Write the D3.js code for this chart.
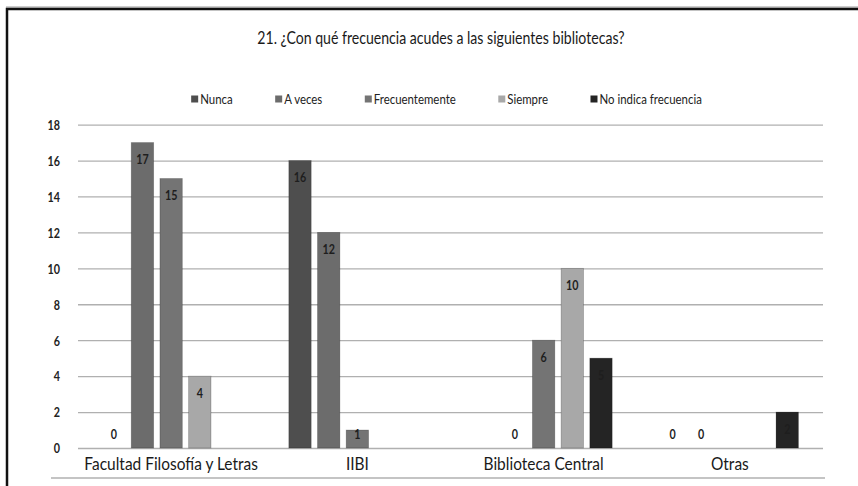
<!DOCTYPE html>
<html>
<head>
<meta charset="utf-8">
<script src="https://cdn.jsdelivr.net/npm/d3@7"></script>
<style>
  body { margin: 0; background: #fff; }
  svg { display: block; }
  text { font-family: Lato, "Open Sans", sans-serif; }
</style>
</head>
<body>
<div id="content"></div>
<script>
// chart data
const categories = ['Facultad Filosofía y Letras', 'IIBI', 'Biblioteca Central', 'Otras'];
const seriesNames = ['Nunca', 'A veces', 'Frecuentemente', 'Siempre', 'No indica frecuencia'];
const nunca = [0, 16, null, 0];
const aVeces = [17, 12, 0, 0];
const frecuentemente = [15, 1, 6, null];
const siempre = [4, null, 10, null];
const noIndica = [null, null, 5, 2];
const yTicks = [0, 2, 4, 6, 8, 10, 12, 14, 16, 18];
const titleText = '21. ¿Con qué frecuencia acudes a las siguientes bibliotecas?';

var app = {};
app.width = 858;
app.height = 486;
app.colors = ['#4e4e4e', '#6c6c6c', '#747474', '#a8a8a8', '#242424'];
app.series = [nunca, aVeces, frecuentemente, siempre, noIndica];
app.sx = 0.86; // the scanned chart is squeezed sideways

// put a text at (x,y) and squeeze it horizontally
function place(sel, x, y) {
  sel.attr('x', null).attr('y', null)
     .attr('transform', (d, i) => {
       var px = typeof x === 'function' ? x(d, i) : x;
       var py = typeof y === 'function' ? y(d, i) : y;
       return `translate(${px},${py}) scale(${app.sx},1)`;
     });
}

// flat list of bars
app.bars = [];
categories.forEach((c, i) => {
  seriesNames.forEach((s, j) => {
    app.bars.push({ cat: c, name: s, value: app.series[j][i], color: app.colors[j] });
  });
});

app.svg = d3.select('#content').append('svg')
  .attr('width', app.width)
  .attr('height', app.height);

app.svg.append('rect')
  .attr('width', app.width).attr('height', app.height)
  .attr('fill', '#fff');

// outer frame (top + left)
app.svg.append('line')
  .attr('x1', 6).attr('x2', app.width).attr('y1', 7).attr('y2', 7)
  .attr('stroke', '#9a9a9a').attr('stroke-width', 1);
app.svg.append('path')
  .attr('d', `M7,${app.height} V9 H${app.width}`)
  .attr('fill', 'none')
  .attr('stroke', '#111')
  .attr('stroke-width', 2.5);

app.x0 = d3.scaleBand()
  .domain(categories)
  .range([78, 823])
  .paddingInner(0.23)
  .paddingOuter(0.115);

app.x1 = d3.scaleBand()
  .domain(seriesNames)
  .range([0, app.x0.bandwidth()])
  .paddingInner(0.22)
  .paddingOuter(0.11);

app.y = d3.scaleLinear()
  .domain([0, 18])
  .range([448, 124.6]);

// gridlines + tick labels
app.yAxis = d3.axisLeft(app.y)
  .tickValues(yTicks)
  .tickSize(-(823 - 78))
  .tickPadding(18);

app.yGuide = app.svg.append('g')
  .attr('transform', 'translate(78,0)')
  .call(app.yAxis);
app.yGuide.select('.domain').remove();
app.yGuide.selectAll('line')
  .attr('stroke', '#b0b0b0')
  .attr('stroke-width', 1.3);
app.yGuide.selectAll('text')
  .attr('fill', '#222')
  .attr('dy', null)
  .attr('dominant-baseline', 'central')
  .style('font-size', '12.5px')
  .style('font-weight', 'bold')
  .style('font-family', 'Lato, sans-serif')
  .call(place, -18, 0);

// bottom rule under category labels
app.svg.append('line')
  .attr('x1', 51).attr('x2', 825).attr('y1', 478).attr('y2', 478)
  .attr('stroke', '#b0b0b0').attr('stroke-width', 1.3);

// bars
app.svg.append('g').selectAll('rect')
  .data(app.bars.filter(d => d.value))
  .enter().append('rect')
  .attr('x', d => app.x0(d.cat) + app.x1(d.name))
  .attr('width', app.x1.bandwidth())
  .attr('y', d => app.y(d.value))
  .attr('height', d => app.y(0) - app.y(d.value))
  .attr('fill', d => d.color)
  .attr('stroke', 'rgba(0,0,0,0.25)')
  .attr('stroke-width', 0.8);

// data labels
app.svg.append('g').selectAll('text')
  .data(app.bars.filter(d => d.value !== null))
  .enter().append('text')
  .attr('text-anchor', 'middle')
  .attr('dominant-baseline', 'central')
  .attr('fill', '#1e1e1e')
  .style('font-size', '12.5px')
  .style('font-weight', 'bold')
  .text(d => d.value)
  .call(place,
    d => app.x0(d.cat) + app.x1(d.name) + app.x1.bandwidth() / 2,
    d => Math.min(app.y(d.value) + 17, app.y(0) - 14));

// category labels
app.svg.append('g').selectAll('text')
  .data(categories)
  .enter().append('text')
  .attr('text-anchor', 'middle')
  .attr('dominant-baseline', 'central')
  .attr('fill', '#1a1a1a')
  .style('font-size', '18px')
  .text(d => d)
  .call(place, d => app.x0(d) + app.x0.bandwidth() / 2, 463);

// title
app.svg.append('text')
  .attr('text-anchor', 'middle')
  .attr('dominant-baseline', 'central')
  .attr('fill', '#1a1a1a')
  .style('font-size', '16.4px')
  .text(titleText)
  .call(place, 441, 38);

// legend, measured and centred
app.legend = app.svg.append('g').attr('transform', 'translate(0,99)');
app.legendItems = app.legend.selectAll('g')
  .data(seriesNames)
  .enter().append('g');
app.legendItems.append('rect')
  .attr('width', 7).attr('height', 7)
  .attr('y', -3.5)
  .attr('fill', (d, i) => app.colors[i]);
app.legendItems.append('text')
  .attr('dominant-baseline', 'central')
  .attr('fill', '#222')
  .style('font-size', '13.3px')
  .text(d => d)
  .call(place, 9, 0);

var pos = 0;
app.legendItems.each(function() {
  var w = 9 + app.sx * d3.select(this).select('text').node().getComputedTextLength();
  d3.select(this).attr('data-x', pos);
  pos += w + 42.5;
});
var total = pos - 42.5;
var start = 446.5 - total / 2;
app.legendItems.attr('transform', function() {
  return `translate(${start + (+d3.select(this).attr('data-x'))},0)`;
});
</script>
</body>
</html>
